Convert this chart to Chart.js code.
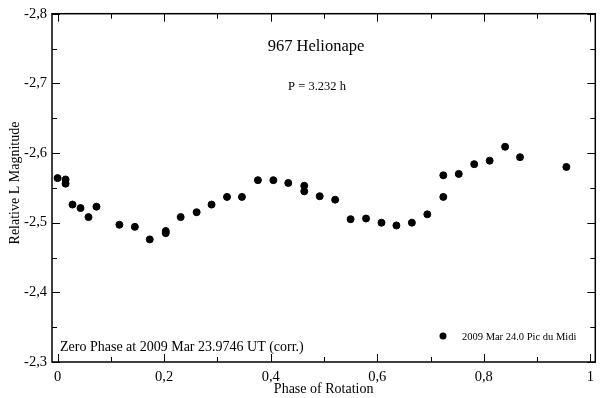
<!DOCTYPE html>
<html>
<head>
<meta charset="utf-8">
<script src="https://cdn.jsdelivr.net/npm/chart.js@4.4.1/dist/chart.umd.min.js"></script>
<style>
    html, body { margin: 0; padding: 0; background: #fff; }
    #wrap { width: 600px; height: 398px; }
</style>
</head>
<body>
<div id="wrap"><canvas id="myChart"></canvas></div>
<script>
// phase of rotation and relative magnitude
const phase = [
    0.000, 0.015, 0.015, 0.028, 0.043, 0.058, 0.073, 0.116, 0.145, 0.173,
    0.203, 0.203, 0.231, 0.261, 0.289, 0.318, 0.346, 0.376, 0.405, 0.433,
    0.463, 0.463, 0.492, 0.521, 0.550, 0.579, 0.608, 0.636, 0.665, 0.694,
    0.724, 0.724, 0.753, 0.782, 0.811, 0.840, 0.868, 0.955
];
const magnitude = [
    -2.564, -2.562, -2.556, -2.526, -2.521, -2.508, -2.523, -2.497, -2.494, -2.476,
    -2.488, -2.485, -2.508, -2.515, -2.526, -2.537, -2.537, -2.561, -2.561, -2.557,
    -2.553, -2.545, -2.538, -2.533, -2.505, -2.506, -2.500, -2.496, -2.500, -2.512,
    -2.568, -2.537, -2.570, -2.584, -2.589, -2.609, -2.594, -2.580
];
const seriesLabel = '2009 Mar 24.0 Pic du Midi';
const xTicks = [0, 0.2, 0.4, 0.6, 0.8, 1];
const yTicks = [-2.8, -2.7, -2.6, -2.5, -2.4, -2.3];

const serif = "'Liberation Serif', 'DejaVu Serif', serif";

function fmt(v) {
    const r = Math.round(v * 10) / 10;
    if (r === 0) return '0';
    if (r === 1) return '1';
    return r.toFixed(1).replace('.', ',');
}

// frame, inward ticks and the text inside the plot
const decorations = {
    id: 'decorations',
    afterDraw(chart) {
        const ctx = chart.ctx;
        const a = chart.chartArea;
        const xs = chart.scales.x;
        const ys = chart.scales.y;
        ctx.save();
        ctx.strokeStyle = '#000';
        ctx.lineWidth = 1.5;
        ctx.strokeRect(a.left, a.top, a.right - a.left, a.bottom - a.top);

        ctx.lineWidth = 1;
        for (let i = 0; i <= 10; i++) {
            const px = Math.round(xs.getPixelForValue(i / 10)) + 0.5;
            const len = i % 2 === 0 ? 8 : 5;
            ctx.beginPath();
            ctx.moveTo(px, a.bottom); ctx.lineTo(px, a.bottom - len);
            ctx.moveTo(px, a.top); ctx.lineTo(px, a.top + len);
            ctx.stroke();
        }
        for (let i = 0; i <= 10; i++) {
            const py = Math.round(ys.getPixelForValue(-2.8 + i * 0.05)) + 0.5;
            const len = i % 2 === 0 ? 8 : 5;
            ctx.beginPath();
            ctx.moveTo(a.left, py); ctx.lineTo(a.left + len, py);
            ctx.moveTo(a.right, py); ctx.lineTo(a.right - len, py);
            ctx.stroke();
        }

        ctx.fillStyle = '#000';
        ctx.textBaseline = 'middle';
        ctx.textAlign = 'center';
        ctx.font = '16.5px ' + serif;
        ctx.fillText('967 Helionape', 316, 47);
        ctx.font = '12.5px ' + serif;
        ctx.fillText('P = 3.232 h', 317, 87);

        // y axis title
        ctx.save();
        ctx.translate(15, 183);
        ctx.rotate(-Math.PI / 2);
        ctx.font = '14px ' + serif;
        ctx.fillText('Relative L Magnitude', 0, 0);
        ctx.restore();

        ctx.textAlign = 'left';
        ctx.font = '14px ' + serif;
        ctx.fillText('Zero Phase at 2009 Mar 23.9746 UT (corr.)', 60, 347);

        // legend
        ctx.beginPath();
        ctx.arc(443, 336, 3.5, 0, Math.PI * 2);
        ctx.fill();
        ctx.font = '10.5px ' + serif;
        ctx.fillText(seriesLabel, 462, 337);
        ctx.restore();
    }
};

const ctx = document.getElementById('myChart').getContext('2d');
const chart = new Chart(ctx, {
    type: 'scatter',
    data: {
        datasets: [{
            label: seriesLabel,
            data: phase.map((p, i) => ({ x: p, y: magnitude[i] })),
            backgroundColor: '#000',
            borderColor: '#000',
            pointRadius: 3.5,
            pointHoverRadius: 3.5
        }]
    },
    options: {
        responsive: true,
        maintainAspectRatio: false,
        animation: false,
        layout: { padding: { top: 11, right: 3, left: 0, bottom: 0 } },
        plugins: {
            legend: { display: false },
            tooltip: { enabled: false }
        },
        scales: {
            x: {
                type: 'linear',
                min: -0.0105,
                max: 1.0093,
                afterFit: (s) => { s.height = 36; },
                afterBuildTicks: (s) => { s.ticks = xTicks.map(v => ({ value: v })); },
                grid: { display: false, drawTicks: false },
                border: { display: false },
                ticks: {
                    padding: 6,
                    color: '#000',
                    font: { family: serif, size: 14.5 },
                    callback: (v) => fmt(v)
                },
                title: {
                    display: true,
                    text: 'Phase of Rotation',
                    color: '#000',
                    font: { family: serif, size: 14 },
                    padding: { top: 0, bottom: 0 }
                }
            },
            y: {
                type: 'linear',
                reverse: true,
                min: -2.8,
                max: -2.3,
                afterFit: (s) => { s.width = 52; },
                afterBuildTicks: (s) => { s.ticks = yTicks.map(v => ({ value: v })); },
                grid: { display: false, drawTicks: false },
                border: { display: false },
                ticks: {
                    padding: 5,
                    color: '#000',
                    font: { family: serif, size: 14.5 },
                    callback: (v) => fmt(v)
                },
                title: { display: false }
            }
        }
    },
    plugins: [decorations]
});
</script>
</body>
</html>
